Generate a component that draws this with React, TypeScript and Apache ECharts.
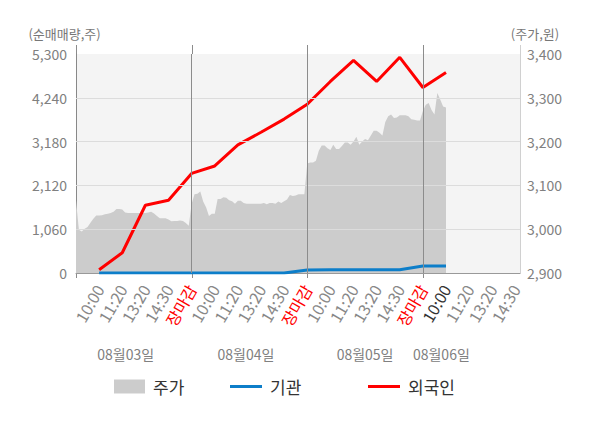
import React, { useEffect, useRef } from "react";
import * as echarts from "echarts";

const FONT = "'Noto Sans CJK KR', 'Noto Sans', sans-serif";

// x axis: each trading day spans 5 slots; labels at slot ends
const TIME_LABELS = ["10:00", "11:20", "13:20", "14:30", "장마감"];
const DAY_LABELS = ["08월03일", "08월04일", "08월05일", "08월06일"];
const DAY_LABEL_POS = [2.15, 7.35, 12.5, 15.8];
const SLOTS_PER_DAY = 5;
const SAMPLES_PER_DAY = 40;
const X_MAX = 19.2;
const CURRENT_SLOT = 16;

// left axis (net buying, shares)
const NET_TICKS = [0, 1060, 2120, 3180, 4240, 5300];
// right axis (price, won)
const PRICE_TICKS = [2900, 3000, 3100, 3200, 3300, 3400];

// 주가 (intraday price samples per day)
const price0803 = [3066, 2999, 2995, 3001, 3005, 3015, 3024, 3031, 3031, 3032, 3034, 3035, 3037, 3040, 3046, 3046, 3045, 3038, 3037, 3037, 3037, 3037, 3037, 3037, 3037, 3038, 3040, 3036, 3030, 3025, 3025, 3025, 3022, 3018, 3019, 3019, 3020, 3019, 3014, 3008];
const price0804 = [3058, 3080, 3081, 3086, 3063, 3050, 3030, 3035, 3035, 3069, 3069, 3073, 3072, 3066, 3064, 3058, 3065, 3065, 3060, 3058, 3058, 3058, 3058, 3058, 3058, 3060, 3057, 3060, 3060, 3058, 3063, 3060, 3064, 3068, 3078, 3076, 3077, 3080, 3080, 3080];
const price0805 = [3150, 3152, 3152, 3156, 3179, 3191, 3191, 3185, 3181, 3193, 3183, 3183, 3190, 3198, 3198, 3193, 3200, 3211, 3193, 3200, 3206, 3203, 3214, 3225, 3225, 3220, 3214, 3245, 3258, 3262, 3254, 3255, 3260, 3260, 3260, 3258, 3251, 3250, 3248, 3248];
const price0806 = [3270, 3284, 3288, 3272, 3262, 3311, 3296, 3280, 3278];

// 기관 / 외국인 cumulative net buying at slots 1..16
const institution = [0, 0, 0, 0, 0, 0, 0, 0, 0, 75, 80, 80, 80, 80, 170, 170];
const foreign = [80, 490, 1640, 1760, 2410, 2590, 3100, 3405, 3725, 4085, 4635, 5145, 4635, 5220, 4490, 4855];

const fmt = (v: number) => Number(v).toLocaleString("en-US");

export default function App() {
  const ref = useRef<HTMLDivElement>(null);

  useEffect(() => {
    if (!ref.current) return;
    const chart = echarts.init(ref.current, undefined, { renderer: "svg" });

    const priceDays = [price0803, price0804, price0805, price0806];
    const priceData: number[][] = [];
    priceDays.forEach((arr, d) =>
      arr.forEach((p, i) => priceData.push([d * SLOTS_PER_DAY + (i * SLOTS_PER_DAY) / SAMPLES_PER_DAY, p]))
    );
    const instData = institution.map((v, i) => [i + 1, v]);
    const forData = foreign.map((v, i) => [i + 1, v]);

    const dividers = [1, 2, 3].map((k) => k * SLOTS_PER_DAY);
    const hLines = NET_TICKS.slice(1, -1);

    const xLabel = (v: number) => {
      const r = Math.round(v);
      if (Math.abs(v - r) > 1e-6 || r <= 0) return "";
      const idx = (r - 1) % SLOTS_PER_DAY;
      const t = TIME_LABELS[idx];
      if (idx === SLOTS_PER_DAY - 1) return "{red|" + t + "}";
      if (r === CURRENT_SLOT) return "{dark|" + t + "}";
      return "{n|" + t + "}";
    };

    const legendText = { fontSize: 17, color: "#333", fontFamily: FONT, padding: [0, 0, 0, 3] };
    const XFS = 16;

    chart.setOption({
      animation: false,
      textStyle: { fontFamily: FONT },
      grid: {
        left: 76,
        right: 80,
        top: 54,
        bottom: 155,
        show: true,
        backgroundColor: "#f4f4f4",
        borderWidth: 0,
      },
      legend: [
        {
          data: [{ name: "주가", icon: "rect" }],
          left: 114,
          top: 378,
          padding: 0,
          itemWidth: 31,
          itemHeight: 14,
          textStyle: legendText,
        },
        {
          data: [{ name: "기관", icon: "rect" }],
          left: 230,
          top: 378,
          padding: 0,
          itemWidth: 32,
          itemHeight: 3,
          textStyle: legendText,
        },
        {
          data: [{ name: "외국인", icon: "rect" }],
          left: 368,
          top: 378,
          padding: 0,
          itemWidth: 32,
          itemHeight: 3,
          textStyle: legendText,
        },
      ],
      xAxis: [
        {
          type: "value",
          min: 0,
          max: X_MAX,
          interval: 1,
          axisLine: { show: true, lineStyle: { color: "#999", width: 1 } },
          axisTick: { show: false },
          splitLine: { show: false },
          axisLabel: {
            rotate: 60,
            margin: 13,
            fontSize: XFS,
            color: "#888",
            fontFamily: FONT,
            formatter: xLabel,
            rich: {
              n: { color: "#888", fontSize: XFS, fontFamily: FONT },
              red: { color: "#ff0000", fontSize: XFS, fontFamily: FONT },
              dark: { color: "#333", fontSize: XFS, fontFamily: FONT },
            },
          },
        },
      ],
      yAxis: [
        {
          type: "value",
          position: "left",
          min: NET_TICKS[0],
          max: NET_TICKS[NET_TICKS.length - 1],
          interval: NET_TICKS[1] - NET_TICKS[0],
          name: "(순매매량,주)",
          nameLocation: "end",
          nameGap: 14,
          nameTextStyle: { color: "#777", fontSize: 13, fontFamily: FONT, padding: [0, 23, 0, 0] },
          axisLine: { show: true, lineStyle: { color: "#888" } },
          axisTick: { show: false },
          splitLine: { show: false },
          axisLabel: { margin: 9, fontSize: 14, color: "#808080", fontFamily: FONT, formatter: fmt },
        },
        {
          type: "value",
          position: "right",
          min: PRICE_TICKS[0],
          max: PRICE_TICKS[PRICE_TICKS.length - 1],
          interval: PRICE_TICKS[1] - PRICE_TICKS[0],
          name: "(주가,원)",
          nameLocation: "end",
          nameGap: 14,
          nameTextStyle: { color: "#777", fontSize: 13, fontFamily: FONT, padding: [0, 0, 0, 30] },
          axisLine: { show: true, lineStyle: { color: "#d0d0d0" } },
          axisTick: { show: false },
          splitLine: { show: false },
          axisLabel: { margin: 7, fontSize: 14, color: "#808080", fontFamily: FONT, formatter: fmt },
        },
      ],
      series: [
        {
          name: "주가",
          type: "line",
          xAxisIndex: 0,
          yAxisIndex: 1,
          data: priceData,
          symbol: "none",
          itemStyle: { color: "#cccccc" },
          lineStyle: { width: 0, color: "#cccccc" },
          areaStyle: { color: "#cccccc", opacity: 1, origin: "start" },
          silent: true,
        },
        {
          name: "grid",
          type: "line",
          xAxisIndex: 0,
          yAxisIndex: 0,
          data: [],
          silent: true,
          markLine: {
            silent: true,
            symbol: ["none", "none"],
            label: { show: false },
            data: [
              ...hLines.map((v) => ({ yAxis: v, lineStyle: { color: "#dcdcdc", width: 1, type: "solid" } })),
              ...dividers.map((v) => ({ xAxis: v, lineStyle: { color: "#8c8c8c", width: 1, type: "solid" } })),
            ],
          },
        },
        {
          name: "기관",
          type: "line",
          xAxisIndex: 0,
          yAxisIndex: 0,
          data: instData,
          symbol: "none",
          itemStyle: { color: "#0d7ec9" },
          lineStyle: { color: "#0d7ec9", width: 3 },
        },
        {
          name: "외국인",
          type: "line",
          xAxisIndex: 0,
          yAxisIndex: 0,
          data: forData,
          symbol: "none",
          itemStyle: { color: "#ff0000" },
          lineStyle: { color: "#ff0000", width: 3 },
        },
      ],
    });

    // axis-line stubs above/below the plot and date labels, positioned via the axes
    const yTop = chart.convertToPixel({ yAxisIndex: 0 }, NET_TICKS[NET_TICKS.length - 1]) as number;
    const yBot = chart.convertToPixel({ yAxisIndex: 0 }, 0) as number;
    const xRight = chart.convertToPixel({ xAxisIndex: 0 }, X_MAX) as number;
    const graphics: any[] = [];
    [0, ...dividers].forEach((u) => {
      const x = Math.round(chart.convertToPixel({ xAxisIndex: 0 }, u) as number) + 0.5;
      graphics.push({
        type: "line",
        silent: true,
        shape: { x1: x, y1: yTop - 9, x2: x, y2: yTop },
        style: { stroke: "#8c8c8c", lineWidth: 1 },
      });
      graphics.push({
        type: "line",
        silent: true,
        shape: { x1: x, y1: yBot, x2: x, y2: yBot + 5 },
        style: { stroke: "#8c8c8c", lineWidth: 1 },
      });
    });
    graphics.push({
      type: "line",
      silent: true,
      shape: { x1: Math.round(xRight) + 0.5, y1: yTop - 9, x2: Math.round(xRight) + 0.5, y2: yTop },
      style: { stroke: "#d0d0d0", lineWidth: 1 },
    });
    DAY_LABELS.forEach((t, i) => {
      const x = chart.convertToPixel({ xAxisIndex: 0 }, DAY_LABEL_POS[i]) as number;
      graphics.push({
        type: "text",
        silent: true,
        x,
        y: yBot + 81,
        style: {
          text: t,
          fill: "#808080",
          fontSize: 14,
          fontFamily: FONT,
          align: "center",
          verticalAlign: "middle",
        },
      });
    });
    chart.setOption({ graphic: graphics });

    return () => chart.dispose();
  }, []);

  return (
    <div
      ref={ref}
      style={{ position: "fixed", left: 0, top: 0, width: 600, height: 428, background: "#fff" }}
    />
  );
}
